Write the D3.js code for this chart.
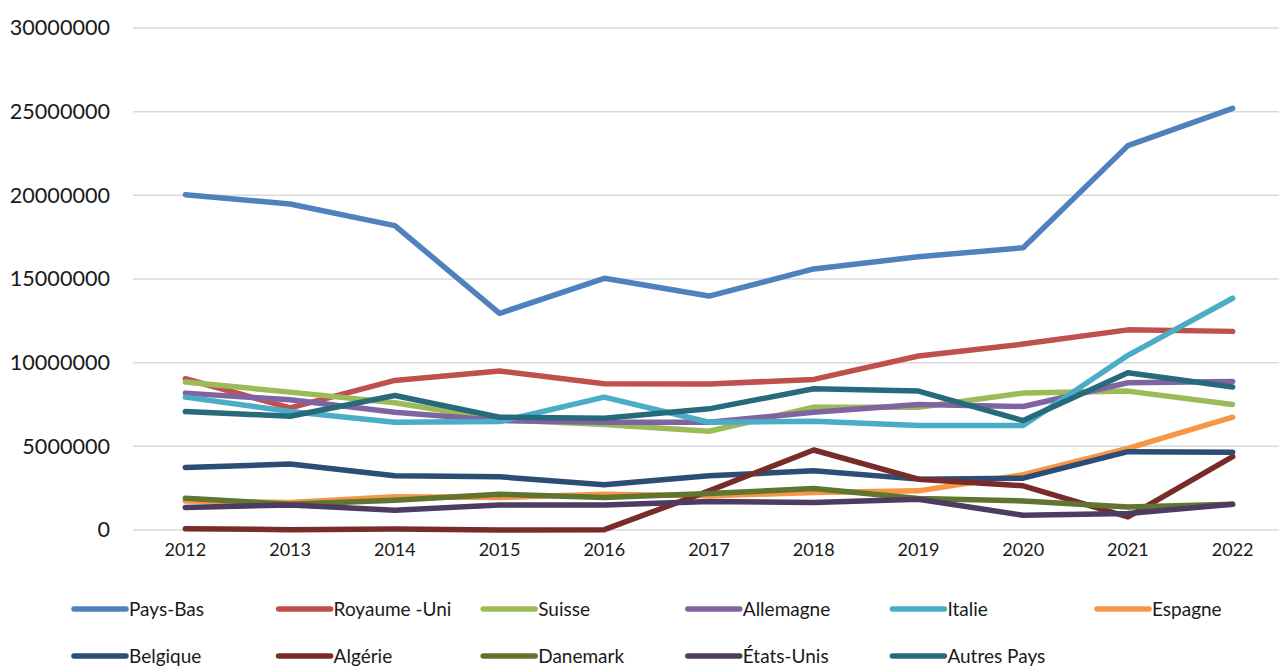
<!DOCTYPE html>
<html>
<head>
<meta charset="utf-8">
<script src="https://cdn.jsdelivr.net/npm/d3@7"></script>
<style>
  html, body { margin: 0; padding: 0; background: #fff; }
  svg { display: block; font-family: Lato, "Open Sans", sans-serif; }
</style>
</head>
<body>
<svg id="chart" width="1279" height="666"></svg>
<script>
// Years on the horizontal axis
const years = ["2012","2013","2014","2015","2016","2017","2018","2019","2020","2021","2022"];

// Values per country, in units
const paysBas     = [20040000,19480000,18190000,12950000,15040000,13980000,15600000,16330000,16870000,22970000,25200000];
const royaumeUni  = [9040000,7300000,8940000,9500000,8740000,8720000,9000000,10400000,11110000,11960000,11870000];
const suisse      = [8840000,8240000,7600000,6600000,6300000,5900000,7340000,7340000,8180000,8300000,7500000];
const allemagne   = [8180000,7780000,7040000,6540000,6440000,6440000,7040000,7500000,7380000,8800000,8880000];
const italie      = [7940000,7080000,6440000,6480000,7940000,6440000,6500000,6240000,6240000,10440000,13850000];
const espagne     = [1740000,1640000,1980000,1940000,2140000,2040000,2240000,2340000,3300000,4880000,6740000];
const belgique    = [3740000,3940000,3240000,3180000,2700000,3240000,3540000,3040000,3100000,4680000,4640000];
const algerie     = [80000,20000,60000,0,20000,2340000,4780000,3040000,2640000,780000,4380000];
const danemark    = [1900000,1540000,1780000,2140000,1940000,2180000,2480000,1880000,1740000,1380000,1540000];
const etatsUnis   = [1340000,1500000,1180000,1500000,1500000,1700000,1640000,1840000,880000,980000,1540000];
const autresPays  = [7080000,6800000,8040000,6740000,6680000,7240000,8440000,8300000,6540000,9400000,8540000];

const seriesNames = ["Pays-Bas","Royaume -Uni","Suisse","Allemagne","Italie","Espagne",
                     "Belgique","Algérie","Danemark","États-Unis","Autres Pays"];
const seriesValues = [paysBas, royaumeUni, suisse, allemagne, italie, espagne,
                      belgique, algerie, danemark, etatsUnis, autresPays];
const seriesColors = ["#4F81BD","#C0504D","#9BBB59","#8064A2","#4BACC6","#F79646",
                      "#2C4D75","#772C2A","#5F7530","#4D3B62","#276A7C"];

const yTicks = [0, 5000000, 10000000, 15000000, 20000000, 25000000, 30000000];

const svg = d3.select("#chart");
const plotLeft = 133, plotRight = 1285, plotTop = 28, plotBottom = 530;

const x = d3.scaleBand().domain(years).range([plotLeft, plotRight]);
const y = d3.scaleLinear().domain([0, 30000000]).range([plotBottom, plotTop]);
const cx = d => x(d) + x.bandwidth() / 2;

// Horizontal gridlines
svg.append("g")
  .selectAll("line")
  .data(yTicks)
  .join("line")
  .attr("x1", plotLeft).attr("x2", plotRight)
  .attr("y1", d => y(d)).attr("y2", d => y(d))
  .attr("stroke", "#d9d9d9").attr("stroke-width", 1.5);

// Y axis labels
const yAxis = svg.append("g")
  .attr("transform", `translate(${plotLeft},0)`)
  .call(d3.axisLeft(y).tickValues(yTicks).tickFormat(d => String(d)).tickSize(0).tickPadding(23));
yAxis.select(".domain").remove();
yAxis.selectAll("text")
  .attr("font-family", "Lato, 'Open Sans', sans-serif")
  .attr("font-size", 21.6).attr("fill", "#1a1a1a");

// X axis labels
const xAxis = svg.append("g")
  .attr("transform", `translate(0,${plotBottom})`)
  .call(d3.axisBottom(x).tickSize(0).tickPadding(13));
xAxis.select(".domain").remove();
xAxis.selectAll("text")
  .attr("font-family", "Lato, 'Open Sans', sans-serif")
  .attr("font-size", 18).attr("fill", "#1a1a1a");

// Lines
const line = d3.line()
  .x((d, i) => cx(years[i]))
  .y(d => y(d));

svg.append("g")
  .selectAll("path")
  .data(seriesValues)
  .join("path")
  .attr("d", d => line(d))
  .attr("fill", "none")
  .attr("stroke", (d, i) => seriesColors[i])
  .attr("stroke-width", 5.5)
  .attr("stroke-linejoin", "round")
  .attr("stroke-linecap", "round");

// Legend: two rows of six / five entries
const legend = svg.append("g");
const entries = legend.selectAll("g")
  .data(seriesNames)
  .join("g")
  .attr("transform", (d, i) => {
    const col = i % 6, row = Math.floor(i / 6);
    return `translate(${74 + col * 204.6},${609 + row * 47})`;
  });
entries.append("line")
  .attr("x1", 0).attr("x2", 52)
  .attr("y1", 0).attr("y2", 0)
  .attr("stroke", (d, i) => seriesColors[i])
  .attr("stroke-width", 5.5)
  .attr("stroke-linecap", "round");
entries.append("text")
  .attr("x", 55).attr("y", 0)
  .attr("dy", "0.35em")
  .attr("font-size", 19)
  .attr("fill", "#1a1a1a")
  .text(d => d);
</script>
</body>
</html>
